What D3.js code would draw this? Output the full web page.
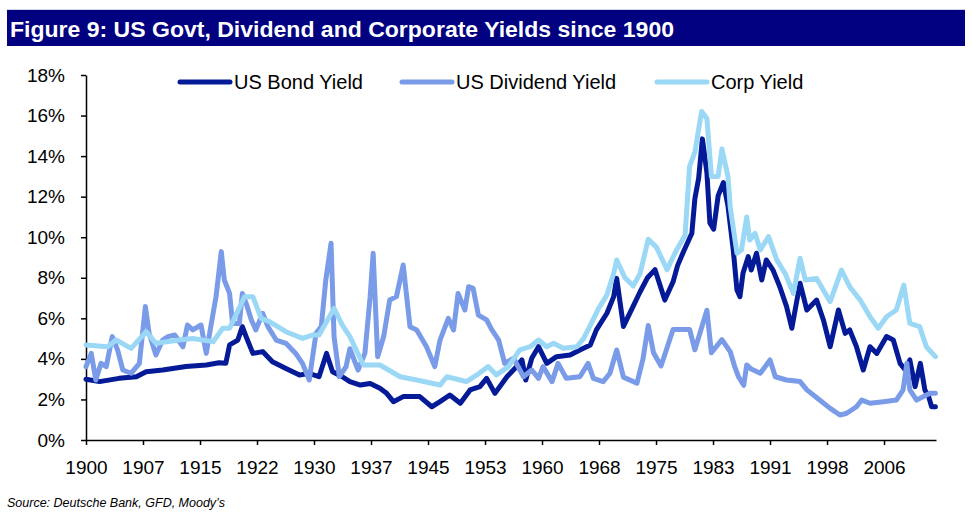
<!DOCTYPE html>
<html>
<head>
<meta charset="utf-8">
<script src="https://cdn.jsdelivr.net/npm/d3@7"></script>
<style>
  body { margin: 0; background: #fff; }
  svg { display: block; font-family: Arial, "Liberation Sans", Helvetica, sans-serif; }
  .axis path, .axis line { stroke: #000; stroke-width: 1.5; }
  .axis text { font-size: 19px; fill: #000; }
</style>
</head>
<body>
<svg width="972" height="518"></svg>
<script>
// values: [decimal year, yield %]
var bondYield = [
  [1900.0, 3.0], [1901.8, 2.88], [1904.4, 3.04], [1906.7, 3.12], [1908.0, 3.37],
  [1910.2, 3.45], [1913.3, 3.62], [1916.0, 3.7], [1917.7, 3.81], [1918.6, 3.78],
  [1919.1, 4.69], [1920.2, 4.93], [1920.8, 5.59], [1921.3, 5.1], [1922.2, 4.27],
  [1923.5, 4.36], [1924.8, 3.86], [1926.6, 3.53], [1928.4, 3.2], [1929.7, 3.29],
  [1931.0, 3.12], [1932.0, 4.27], [1932.8, 3.37], [1934.1, 3.12], [1935.1, 2.88],
  [1936.5, 2.71], [1937.8, 2.79], [1939.1, 2.55], [1940.0, 2.3], [1940.9, 1.89],
  [1942.2, 2.14], [1944.4, 2.14], [1946.0, 1.64], [1947.1, 1.89], [1948.4, 2.22],
  [1949.8, 1.81], [1951.1, 2.47], [1952.4, 2.63], [1953.3, 3.04], [1954.4, 2.3],
  [1956.0, 3.12], [1957.3, 3.62], [1958.0, 3.95], [1958.5, 2.96], [1959.3, 4.03],
  [1960.2, 4.6], [1961.3, 3.78], [1962.6, 4.11], [1964.4, 4.19], [1965.7, 4.44],
  [1967.1, 4.69], [1967.9, 5.43], [1969.3, 6.25], [1970.2, 7.07], [1970.6, 7.97],
  [1971.5, 5.6], [1972.8, 6.6], [1973.7, 7.3], [1974.7, 8.0], [1975.7, 8.4],
  [1977.0, 6.9], [1978.1, 7.8], [1978.7, 8.6], [1979.5, 9.3], [1980.6, 10.2],
  [1981.0, 11.9], [1981.5, 12.9], [1982.0, 14.85], [1982.6, 13.2], [1983.0, 10.7],
  [1983.5, 10.4], [1984.1, 12.05], [1984.8, 12.7], [1985.4, 11.55], [1986.1, 9.4],
  [1986.6, 7.4], [1987.0, 7.07], [1987.4, 8.22], [1988.1, 9.04], [1988.5, 8.38],
  [1989.2, 9.21], [1989.9, 7.89], [1990.5, 8.88], [1991.4, 8.38], [1992.3, 7.56],
  [1993.2, 6.58], [1993.9, 5.51], [1994.5, 6.74], [1995.0, 7.73], [1995.9, 6.41],
  [1997.2, 6.9], [1998.1, 5.92], [1999.0, 4.6], [2000.1, 6.41], [2001.0, 5.26],
  [2001.6, 5.43], [2002.5, 4.6], [2003.4, 3.45], [2004.3, 4.6], [2005.2, 4.27],
  [2006.5, 5.1], [2007.4, 4.93], [2008.3, 3.78], [2009.0, 3.45], [2009.6, 3.95],
  [2010.3, 2.63], [2011.0, 3.78], [2011.6, 2.47], [2012.1, 2.14], [2012.5, 1.64],
  [2013.0, 1.64]
];

var dividendYield = [
  [1900.0, 3.62], [1900.7, 4.27], [1901.3, 2.96], [1902.0, 3.78], [1902.7, 3.62],
  [1903.5, 5.1], [1904.2, 4.44], [1904.9, 3.45], [1906.0, 3.29], [1907.1, 3.78],
  [1907.9, 6.58], [1908.4, 5.26], [1909.3, 4.19], [1910.2, 4.93], [1910.9, 5.1],
  [1911.8, 5.18], [1912.9, 4.6], [1913.5, 5.67], [1914.2, 5.43], [1915.3, 5.67],
  [1916.0, 4.27], [1916.6, 5.59], [1917.3, 7.07], [1918.0, 9.29], [1918.4, 7.89],
  [1919.1, 7.23], [1919.5, 5.75], [1920.4, 5.75], [1920.8, 7.23], [1921.3, 6.74],
  [1922.0, 5.92], [1922.6, 5.43], [1923.5, 6.25], [1924.2, 5.59], [1925.3, 4.93],
  [1926.6, 4.77], [1927.9, 4.27], [1928.8, 3.78], [1929.7, 2.96], [1930.6, 5.26],
  [1931.3, 5.59], [1931.9, 7.89], [1932.6, 9.7], [1933.0, 5.1], [1933.7, 3.12],
  [1934.6, 3.62], [1935.1, 4.5], [1936.2, 3.45], [1937.1, 4.27], [1937.8, 7.07],
  [1938.2, 9.21], [1938.8, 4.11], [1939.6, 5.1], [1940.4, 6.9], [1941.3, 7.07],
  [1942.2, 8.63], [1943.1, 5.59], [1944.0, 5.43], [1945.3, 4.6], [1946.4, 3.62],
  [1947.1, 4.93], [1948.2, 6.0], [1948.9, 5.43], [1949.5, 7.23], [1950.4, 6.41],
  [1950.9, 7.56], [1951.5, 7.48], [1952.2, 6.16], [1953.3, 5.92], [1954.0, 5.43],
  [1954.9, 4.93], [1955.7, 3.78], [1956.9, 4.03], [1958.2, 3.12], [1959.3, 3.45],
  [1960.2, 3.04], [1960.8, 3.62], [1962.0, 2.88], [1962.8, 3.78], [1963.9, 3.04],
  [1965.7, 3.12], [1966.8, 3.78], [1967.5, 3.04], [1968.8, 2.88], [1969.7, 3.29],
  [1970.6, 4.44], [1971.5, 3.1], [1973.3, 2.8], [1974.1, 4.0], [1974.8, 5.65],
  [1975.5, 4.3], [1976.5, 3.65], [1978.1, 5.45], [1980.3, 5.45], [1981.0, 4.45],
  [1981.7, 5.3], [1982.6, 6.4], [1983.2, 4.3], [1984.6, 4.95], [1985.7, 4.36],
  [1986.3, 3.62], [1986.8, 3.12], [1987.5, 2.7], [1987.9, 3.7], [1988.5, 3.5],
  [1989.7, 3.29], [1991.0, 3.95], [1991.7, 3.12], [1993.2, 2.96], [1995.0, 2.88],
  [1995.9, 2.47], [1997.6, 1.97], [1999.0, 1.56], [2000.3, 1.23], [2001.2, 1.32],
  [2002.5, 1.64], [2003.2, 1.97], [2004.3, 1.81], [2006.1, 1.89], [2007.8, 1.97],
  [2008.7, 2.47], [2009.2, 3.78], [2009.6, 2.47], [2010.5, 1.97], [2011.4, 2.14],
  [2012.3, 2.3], [2013.0, 2.3]
];

var corpYield = [
  [1900.0, 4.69], [1902.9, 4.6], [1904.0, 4.93], [1906.0, 4.52], [1908.0, 5.34],
  [1909.3, 4.77], [1912.4, 4.93], [1914.2, 5.01], [1916.9, 4.85], [1918.2, 5.51],
  [1919.1, 5.51], [1921.1, 7.07], [1922.2, 7.07], [1923.3, 6.0], [1924.4, 5.84],
  [1926.6, 5.34], [1928.8, 5.01], [1930.2, 5.18], [1931.0, 5.18], [1933.0, 6.49],
  [1934.1, 5.67], [1935.1, 5.1], [1936.9, 3.7], [1939.1, 3.7], [1941.8, 3.12],
  [1944.0, 2.96], [1947.1, 2.71], [1948.0, 3.12], [1949.8, 2.96], [1950.6, 2.88],
  [1952.0, 3.21], [1953.5, 3.62], [1954.6, 3.21], [1956.2, 3.62], [1957.7, 4.44],
  [1959.1, 4.6], [1960.2, 4.93], [1961.3, 4.6], [1962.2, 4.77], [1963.5, 4.52],
  [1965.3, 4.6], [1966.2, 5.01], [1967.1, 5.67], [1968.2, 6.49], [1969.3, 7.15],
  [1970.2, 8.22], [1970.6, 8.88], [1971.7, 8.0], [1972.8, 7.6], [1973.7, 8.2],
  [1974.8, 9.9], [1975.9, 9.5], [1977.3, 8.4], [1978.6, 9.4], [1979.7, 10.1],
  [1980.3, 13.5], [1981.0, 14.2], [1981.9, 16.2], [1982.6, 15.85], [1983.2, 13.0],
  [1984.1, 13.0], [1984.6, 14.35], [1985.4, 13.0], [1985.7, 11.5], [1986.6, 9.21],
  [1987.2, 9.37], [1987.9, 11.0], [1988.3, 9.86], [1989.0, 10.19], [1989.7, 9.37],
  [1990.8, 10.03], [1991.9, 8.88], [1993.0, 8.22], [1994.1, 7.23], [1995.0, 8.96],
  [1995.7, 7.89], [1997.2, 7.97], [1999.0, 6.82], [2000.5, 8.38], [2001.6, 7.56],
  [2003.0, 6.9], [2004.3, 6.08], [2005.4, 5.51], [2006.5, 6.08], [2007.8, 6.41],
  [2008.8, 7.64], [2009.6, 5.75], [2010.9, 5.59], [2011.8, 4.6], [2013.0, 4.11]
];

var seriesNames = ['US Bond Yield', 'US Dividend Yield', 'Corp Yield'];
var seriesColors = ['#041a96', '#7a9be8', '#9ad8f6'];
var xTickLabels = ['1900', '1907', '1915', '1922', '1930', '1937', '1945', '1953',
                   '1960', '1968', '1975', '1983', '1991', '1998', '2006'];
var yTicks = [0, 2, 4, 6, 8, 10, 12, 14, 16, 18];

var svg = d3.select('svg');

// title bar
svg.append('line')
    .attr('x1', 7).attr('x2', 965).attr('y1', 9.5).attr('y2', 9.5)
    .style('stroke', '#cfd3e6');
svg.append('rect')
    .attr('x', 7).attr('y', 10).attr('width', 958).attr('height', 36)
    .style('fill', '#000080');
svg.append('text')
    .attr('x', 10).attr('y', 37)
    .attr('textLength', 664).attr('lengthAdjust', 'spacingAndGlyphs')
    .style('font-size', '22px').style('font-weight', 'bold').style('fill', '#fff')
    .text('Figure 9: US Govt, Dividend and Corporate Yields since 1900');

var xScale = d3.scaleLinear()
    .domain([1900, 2013.08])
    .range([86, 936]);

var yScale = d3.scaleLinear()
    .domain([0, 18])
    .range([440, 75]);

// Excel category axis: one label every 91 months
var xTickValues = xTickLabels.map(function(d, i){ return 1900 + i * 91 / 12; });

var xAxis = d3.axisBottom(xScale)
    .tickValues(xTickValues)
    .tickFormat(function(d, i){ return xTickLabels[i]; })
    .tickSize(5).tickSizeOuter(0).tickPadding(16);

svg.append('g')
    .attr('class', 'x axis')
    .attr('transform', 'translate(0,440)')
    .call(xAxis);

var yAxis = d3.axisLeft(yScale)
    .tickValues(yTicks)
    .tickFormat(function(d){ return d + '%'; })
    .tickSize(5).tickSizeOuter(0).tickPadding(16);

svg.append('g')
    .attr('class', 'y axis')
    .attr('transform', 'translate(86,0)')
    .call(yAxis);

var line = d3.line()
    .x(function(d){ return xScale(d[0]); })
    .y(function(d){ return yScale(d[1]); });

[bondYield, dividendYield, corpYield].forEach(function(s, i){
    svg.append('path')
        .datum(s)
        .attr('d', line)
        .style('fill', 'none')
        .style('stroke', seriesColors[i])
        .style('stroke-width', 5)
        .style('stroke-linejoin', 'round')
        .style('stroke-linecap', 'round');
});

// legend
var legendX = [180, 402, 657];
var legend = svg.selectAll('.legend')
    .data(seriesNames)
    .enter()
    .append('g')
    .attr('class', 'legend')
    .attr('transform', function(d, i){ return 'translate(' + legendX[i] + ',82)'; });

legend.append('line')
    .attr('x1', 0).attr('x2', 50)
    .style('stroke', function(d, i){ return seriesColors[i]; })
    .style('stroke-width', 5)
    .style('stroke-linecap', 'round');

legend.append('text')
    .attr('x', 54).attr('y', 7)
    .style('font-size', '20px')
    .text(function(d){ return d; });

svg.append('text')
    .attr('x', 7).attr('y', 507)
    .style('font-size', '12.5px').style('font-style', 'italic')
    .text('Source: Deutsche Bank, GFD, Moody\u2019s');
</script>
</body>
</html>
